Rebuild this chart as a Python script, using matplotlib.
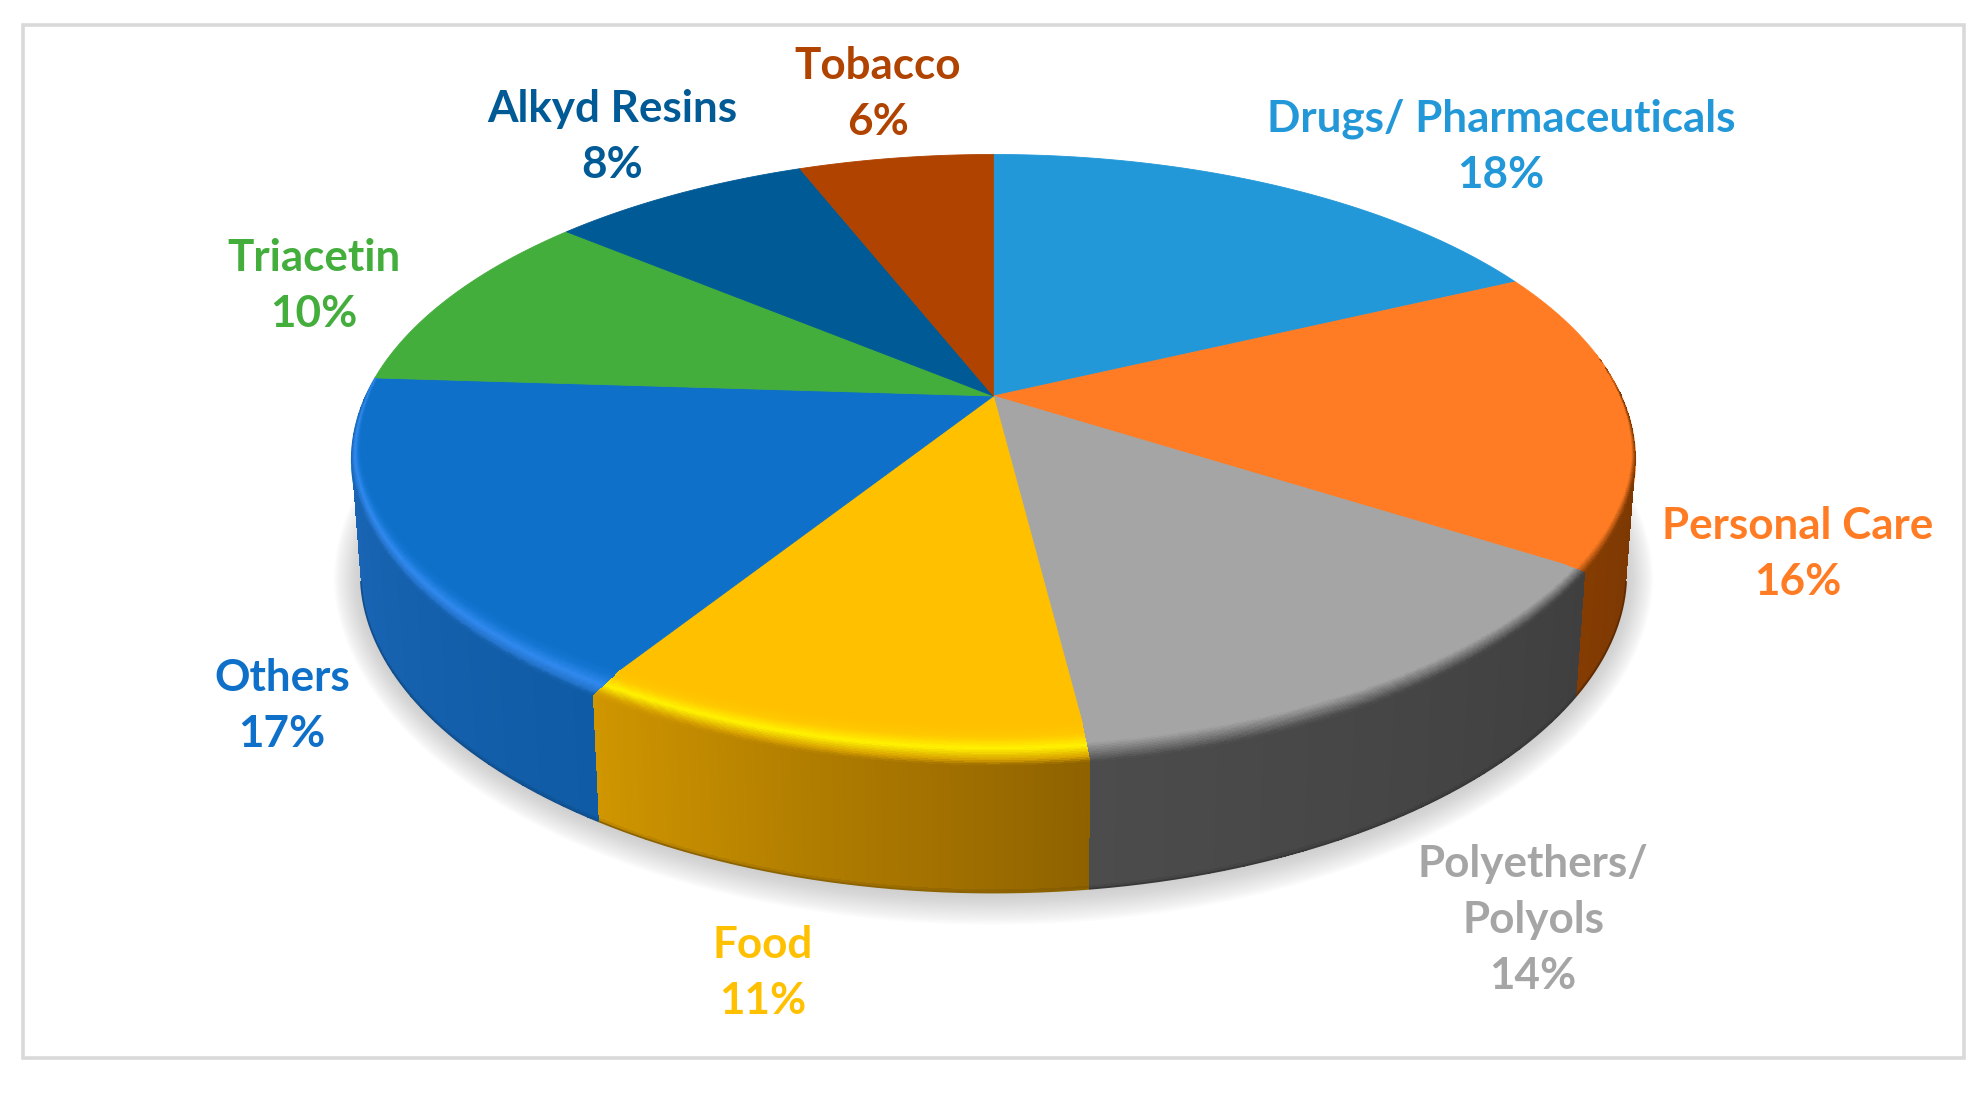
import numpy as np
import matplotlib
matplotlib.use("Agg")
import matplotlib.pyplot as plt
from matplotlib.colors import to_rgb
from matplotlib.patches import Rectangle, Polygon
from matplotlib.path import Path
from matplotlib.transforms import Transform

# ---------- data ----------
categories = ["Drugs/ Pharmaceuticals", "Personal Care", "Polyethers/\nPolyols", "Food",
              "Others", "Triacetin", "Alkyd Resins", "Tobacco"]
shares = [18, 16, 14, 11, 17, 10, 8, 6]

# ---------- styles ----------
face_colors = ["#2398D8", "#FF7C24", "#A5A5A5", "#FFC000", "#0E70C8", "#43AE3C", "#005A96", "#B04300"]
wall_colors = {1: ("#6B3006", "#843C02"), 2: ("#3F3F3F", "#4C4C4C"),
               3: ("#8F6200", "#D09600"), 4: ("#0F5BA5", "#1E6ABB")}       # (right end, left end)
band_stops = {
    1: [(1.0, "#FF7C24"), (0.42, "#FF7C24")],
    2: [(1.0, "#A5A5A5"), (0.50, "#A5A5A5")],
    3: [(1.0, "#FFC000"), (0.72, "#FFC800"), (0.42, "#FFF200"), (0.14, "#D8A200")],
    4: [(1.0, "#0E70C8"), (0.72, "#1476D2"), (0.38, "#3089EE"), (0.12, "#2474CC")],
}
label_pos = [(1501, 147), (1798, 554), (1533, 920), (763, 973),
             (282, 706), (314, 286), (612, 137), (878, 94)]

# ---------- projection of the unit pie onto the tilted plane ----------
CX, CY, AX_, BY_, K = 993.5, 396.0, 628.0, 292.0, 0.209
EX, EY = 993.5, 460.0           # centre of the projected rim ellipse
EA, EB = 642.0, 305.0
DROP, SHRINK, STRETCH = 120.0, 0.985, 1.02     # base of the disc
INSET = 0.025                   # the wall starts a little inside the flat top at the front


def project(x, y):
    d = 1 + K * y
    return CX + AX_ * x / d, CY - BY_ * y / d


class Proj(Transform):
    input_dims = output_dims = 2
    is_separable = False
    has_inverse = False

    def transform_non_affine(self, xy):
        xy = np.asarray(xy, float)
        px, py = project(xy[:, 0], xy[:, 1])
        return np.column_stack([px, py])

    def transform_path_non_affine(self, path):
        verts = []
        for curve, code in path.iter_bezier():
            if code == Path.MOVETO:
                verts.append(curve.control_points[0])
            else:
                verts.extend(curve(np.linspace(0, 1, 40))[1:])
        verts = np.array(verts)
        return Path(self.transform_non_affine(verts), closed=True)


def top_edge(theta):
    return project(np.sin(theta), np.cos(theta))


def front_weight(y):
    return np.clip((y - EY) / EB, 0, 1)


def rim(theta):
    x, y = top_edge(theta)
    return CX + (x - CX) * (1 - INSET * front_weight(y)), y


def base(theta):
    x, y = rim(theta)
    return CX + SHRINK * (x - CX), CY + DROP + STRETCH * (y - CY)


def lerp_stops(stops, t):
    """stops: list of (t, rgb) with decreasing t; t scalar"""
    ts = [s[0] for s in stops][::-1]
    cs = np.array([s[1] for s in stops])[::-1]
    return np.array([np.interp(t, ts, cs[:, i]) for i in range(3)])


fig = plt.figure(figsize=(19.8, 10.93), dpi=100, facecolor="white")
ax = fig.add_axes([0, 0, 1, 1])

wedges, _ = ax.pie(shares, startangle=90, counterclock=False, colors=face_colors, radius=1,
                   wedgeprops=dict(linewidth=0))
for w, c in zip(wedges, face_colors):
    w.set_transform(Proj() + ax.transData)
    w.set_edgecolor(c)
    w.set_linewidth(0.6)
    w.set_zorder(3)
ax.set_aspect("auto")
ax.set_xlim(0, 1980)
ax.set_ylim(1093, 0)
ax.set_axis_off()

# frame
ax.add_patch(Rectangle((23, 25), 1941, 1033, fill=False, ec="#D9D9D9", lw=2.6, zorder=1))

# soft shadow under the disc
th_all = np.linspace(0, 2 * np.pi, 361)
bx, by = base(th_all)
bcx, bcy = 0.5 * (bx.min() + bx.max()), 0.5 * (by.min() + by.max())
n_sh = 16
for i in range(n_sh):
    g = 30 * (1 - i / n_sh)
    sx = (bx - bcx) * (1 + 0.9 * g / 632) + bcx
    sy = (by - bcy) * (1 + g / 300) + bcy + 1
    ax.add_patch(Polygon(np.column_stack([sx, sy]), closed=True, fc="#A0A0A0", ec="none",
                         alpha=0.036, zorder=2))

# sides and bevel of the front slices
edges = np.cumsum([0] + shares) / sum(shares) * 2 * np.pi
VIS0, VIS1 = np.arccos(-K), 2 * np.pi - np.arccos(-K)
NT, NV, NTH = 24, 40, 160

for i in wall_colors:
    a0, a1 = edges[i], edges[i + 1]
    right_c, left_c = map(np.array, map(to_rgb, wall_colors[i]))

    # wall: only the part facing the viewer
    w0, w1 = max(a0, VIS0), min(a1, VIS1)
    th = np.linspace(w0, w1, NTH + 1)
    v = np.linspace(0, 1, NV + 1)
    rx, ry = rim(th)
    qx, qy = base(th)
    X = rx[None, :] + v[:, None] * (qx - rx)[None, :]
    Y = ry[None, :] + v[:, None] * (qy - ry)[None, :]
    f = (0.5 * (th[:-1] + th[1:]) - a0) / (a1 - a0)
    C = np.zeros((NV, NTH, 3))
    for j in range(NTH):
        C[:, j, :] = right_c + (left_c - right_c) * f[j]
    # darker thin line at the foot of the wall
    foot = np.clip((v[:-1] - 0.965) / 0.035, 0, 1)[:, None, None]
    C = C * (1 - 0.25 * foot)
    ax.pcolormesh(X, Y, C, shading="flat", antialiased=False, zorder=4)
    # smooth outline of the foot
    ax.plot(qx, qy, color=tuple(0.5 * (right_c + left_c) * 0.8), lw=1.3, zorder=4.5,
            solid_capstyle="butt")

    # bevel between the flat top and the wall: its inner edge stays on the slice's radial lines
    th = np.linspace(a0, a1, NTH + 1)
    t = np.linspace(1, 0, NT + 1)
    rx, ry = rim(th)
    ex, ey = top_edge(th)
    tap = front_weight(ey)
    tap_x = np.clip((ey - (EY - 110)) / 110, 0, 1)
    s = 0.016 * tap_x + 0.09 * tap ** 1.1
    ix, iy = ex + s * (CX - ex), ey + s * (CY - ey)
    X = rx[None, :] + t[:, None] * (ix - rx)[None, :]
    Y = ry[None, :] + t[:, None] * (iy - ry)[None, :]
    tc = 0.5 * (t[:-1] + t[1:])
    f = 0.5 * (th[:-1] + th[1:])
    f = (np.clip(f, w0, w1) - a0) / (a1 - a0)
    C = np.zeros((NT, NTH, 3))
    stops = [(s_, to_rgb(c)) for s_, c in band_stops[i]]
    for j in range(NTH):
        wc = right_c + (left_c - right_c) * f[j]
        st = stops + [(0.0, tuple(wc))]
        for r in range(NT):
            C[r, j] = lerp_stops(st, tc[r])
    ax.pcolormesh(X, Y, C, shading="flat", antialiased=False, zorder=5)

# labels
for name, share, color, (lx, ly) in zip(categories, shares, face_colors, label_pos):
    ax.text(lx, ly, f"{name}\n{share}%", ha="center", va="center", color=color,
            family=["Lato", "DejaVu Sans"], fontweight="bold", fontsize=31.7,
            linespacing=1.49, zorder=6)

fig.savefig("out.png", dpi=100, facecolor="white")
